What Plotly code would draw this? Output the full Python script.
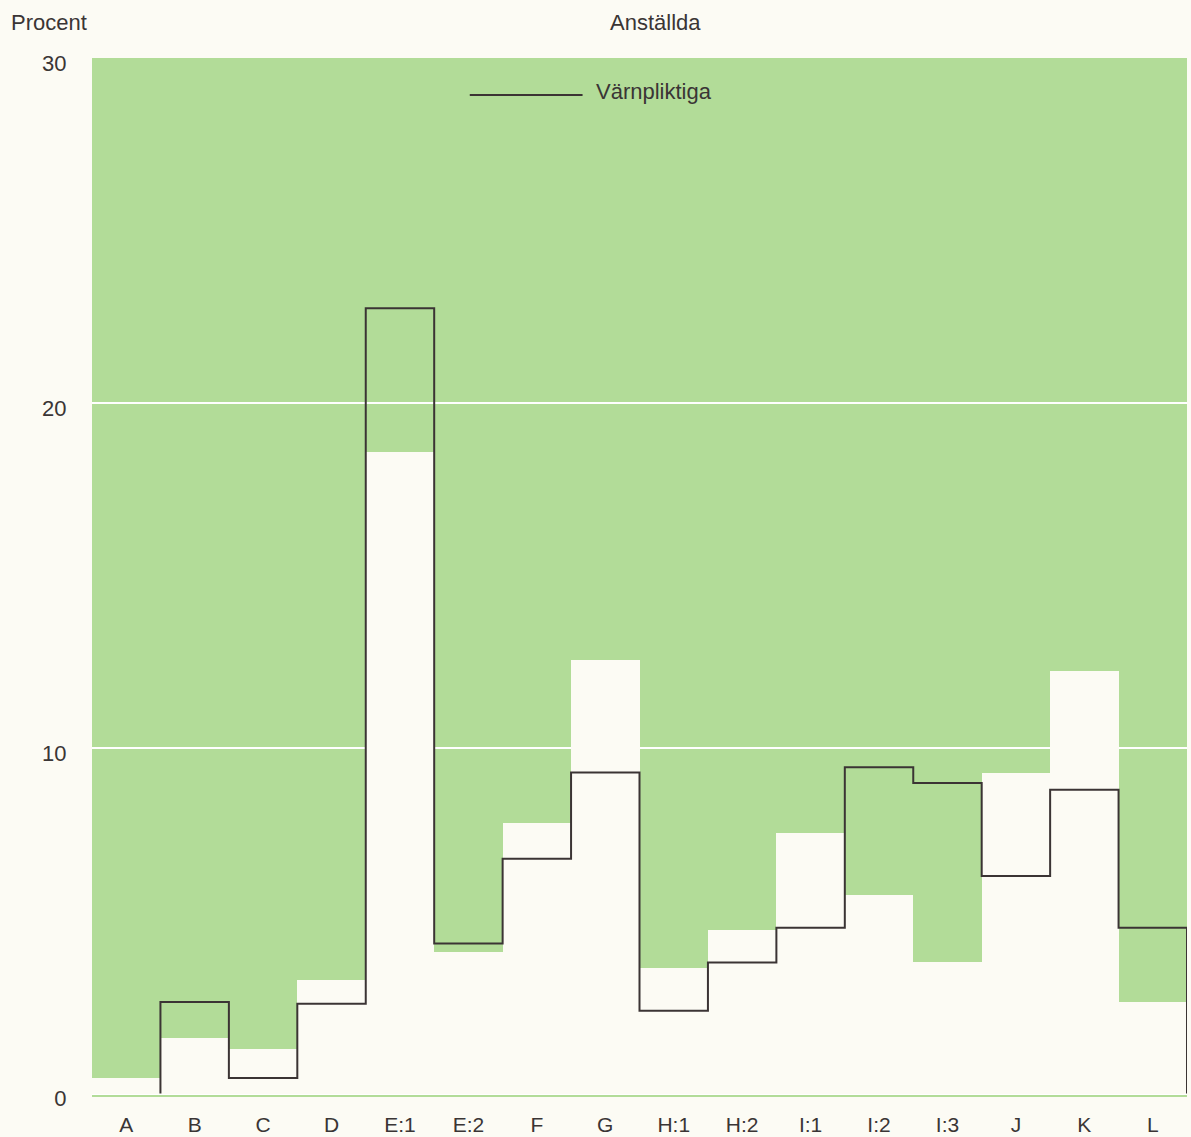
import plotly.graph_objects as go

kategorier = ["A", "B", "C", "D", "E:1", "E:2", "F", "G", "H:1", "H:2",
              "I:1", "I:2", "I:3", "J", "K", "L"]
anstallda = [0.46, 1.6, 1.3, 3.3, 18.6, 4.1, 7.85, 12.55, 3.65, 4.75,
             7.55, 5.75, 3.8, 9.3, 12.25, 2.65]
varnpliktiga = [0.0, 2.65, 0.45, 2.6, 22.75, 4.35, 6.8, 9.3, 2.4, 3.8,
                4.8, 9.45, 9.0, 6.3, 8.8, 4.8]
y_ticks = [0, 10, 20, 30]

gron = "#b2dc98"
papper = "#fcfbf4"
linje = "#3b3434"
text_farg = "#3a3535"
typsnitt = "Liberation Sans, Arial, sans-serif"

pos = list(range(len(kategorier)))

# trappkurvan för värnpliktiga, börjar vid första värdet som inte är noll
sx, sy = [], []
forsta = next(i for i, v in enumerate(varnpliktiga) if v > 0)
sx.append(pos[forsta] - 0.5)
sy.append(0)
for i in pos[forsta:]:
    sx += [i - 0.5, i + 0.5]
    sy += [varnpliktiga[i], varnpliktiga[i]]
sx.append(pos[-1] + 0.5)
sy.append(0)

fig = go.Figure()
fig.add_trace(go.Bar(x=pos, y=anstallda, width=1.0, marker=dict(color=papper, line=dict(width=0)),
                     name="Anställda", hoverinfo="y"))
fig.add_trace(go.Scatter(x=sx, y=sy, mode="lines", line=dict(color=linje, width=2),
                         name="Värnpliktiga", hoverinfo="skip"))

fig.update_layout(
    width=1191, height=1137,
    margin=dict(l=92, r=4, t=58, b=40),
    paper_bgcolor=papper, plot_bgcolor=gron,
    showlegend=False, bargap=0,
    font=dict(family=typsnitt, size=22, color=text_farg),
    xaxis=dict(range=[-0.5, len(kategorier) - 0.5], tickvals=pos, ticktext=kategorier,
               showgrid=False, zeroline=False, showline=False, automargin=False,
               ticks="outside", ticklen=9, tickcolor="rgba(0,0,0,0)",
               tickfont=dict(size=21)),
    yaxis=dict(range=[-0.1, 30], tickvals=y_ticks, showgrid=True, gridcolor="white",
               gridwidth=2, zeroline=False, showline=False, automargin=False,
               ticks="outside", ticklen=20, tickcolor="rgba(0,0,0,0)",
               ticklabelshift=5, tickfont=dict(size=22)),
    annotations=[
        dict(text="Procent", xref="paper", yref="paper", x=-0.076, y=1.0, yshift=36,
             xanchor="left", yanchor="middle", showarrow=False),
        dict(text="Anställda", xref="paper", yref="paper", x=0.515, y=1.0, yshift=36,
             xanchor="center", yanchor="middle", showarrow=False),
        dict(text="Värnpliktiga", xref="paper", yref="paper", x=0.458, y=1.0, yshift=-33,
             xanchor="left", yanchor="middle", showarrow=False),
    ],
    shapes=[
        dict(type="line", xref="paper", yref="y", x0=0.345, x1=0.448,
             ysizemode="pixel", yanchor=30, y0=-37, y1=-37,
             line=dict(color=linje, width=2))
    ],
)

fig.write_html("out.html", config={"displayModeBar": False},
               post_script="document.body.style.margin='0';document.body.style.background='#fcfbf4';")
